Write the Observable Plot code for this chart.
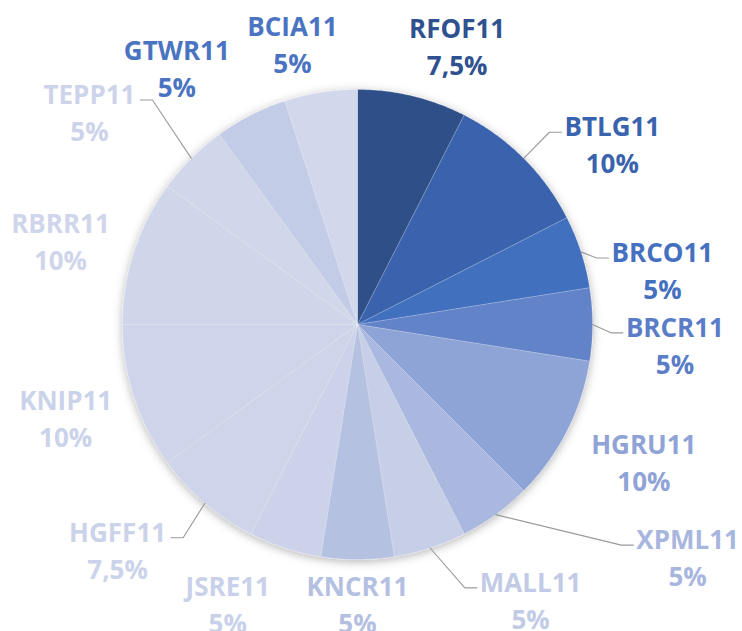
<!DOCTYPE html>
<html><head><meta charset="utf-8">
<script src="https://cdn.jsdelivr.net/npm/d3@7"></script>
<script src="https://cdn.jsdelivr.net/npm/@observablehq/plot@0.6"></script>
<style>html,body{margin:0;padding:0;background:#fff}</style>
</head><body><div id="chart"></div>
<script>
// ---- data ----
const names = ["RFOF11","BTLG11","BRCO11","BRCR11","HGRU11","XPML11","MALL11","KNCR11","JSRE11","HGFF11","KNIP11","RBRR11","TEPP11","GTWR11","BCIA11"];
const shares = [7.5,10,5,5,10,5,5,5,5,7.5,10,10,5,5,5];
const pctLabels = ["7,5%","10%","5%","5%","10%","5%","5%","5%","5%","7,5%","10%","10%","5%","5%","5%"];

// ---- styles ----
const sliceColors = ["#2E5088","#3A64AD","#3F6FBE","#6383C9","#8FA4D6","#AAB8DF","#C6CEE8","#B5C1E1","#CBD2E9","#CED5EA","#CED5EA","#D0D6EA","#D1D7EB","#C3CCE6","#D2D8EB"];
const labelColors = ["#2F5190","#3A63AD","#4470C0","#5B7DC8","#8FA3D6","#A8B6DF","#C2CBE6","#B4C0E1","#C9D1EA","#CBD3EA","#CBD3EA","#CFD5EA","#CDD4EA","#4A74C2","#4A74C2"];
// ---- label layout (angle shift in degrees from slice middle, radius in px) ----
const labelShift = [6.1,9.5,7.6,3.4,-1.6,-19,-14.3,0,7,6.5,0.5,-2,-6.4,-8,-4];
const labelRadius = [297,313,310,318,317,403,324,278,307,328,306,309,343,315,289];
const leaderSide = [0,1,1,1,0,1,1,0,0,-1,0,0,-1,0,0]; // 1: line enters from left of text, -1: from right

const R = 235, FS = 26, FONT = "'Open Sans'", LH = 37;
const ctx = document.createElement("canvas").getContext("2d");
ctx.font = `bold ${FS}px ${FONT}`;

const total = d3.sum(shares);
let acc = 0;
const slices = names.map((n, i) => {
  const a0 = acc / total * 360; acc += shares[i]; const a1 = acc / total * 360;
  return {name: n, i, a0, a1, mid: (a0 + a1) / 2};
});
const rad = d => d * Math.PI / 180;
const pt = (a, r) => [r * Math.sin(rad(a)), r * Math.cos(rad(a))];

// pie polygons
const piePts = [];
for (const s of slices) {
  piePts.push({name: s.name, x: 0, y: 0, c: sliceColors[s.i]});
  const steps = Math.max(2, Math.ceil((s.a1 - s.a0) * 2));
  for (let k = 0; k <= steps; k++) {
    const [x, y] = pt(s.a0 + (s.a1 - s.a0) * k / steps, 1);
    piePts.push({name: s.name, x, y, c: sliceColors[s.i]});
  }
  piePts.push({name: s.name, x: 0, y: 0, c: sliceColors[s.i]});
}

// labels
const labels = slices.map(s => {
  const [x, y] = pt(s.mid + labelShift[s.i], labelRadius[s.i] / R);
  return {x, y, text: names[s.i] + "\n" + pctLabels[s.i], c: labelColors[s.i], s};
});

// leader lines
const leaders = [];
labels.forEach(l => {
  const side = leaderSide[l.s.i];
  if (!side) return;
  const w = ctx.measureText(names[l.s.i]).width;
  const cx = l.x * R, cy = -l.y * R; // px relative to center (y down)
  const ly = cy - LH / 2 + 8;
  const ex = side === 1 ? cx - w / 2 - 3 : cx + w / 2 + 5;
  const bx = side === 1 ? ex - 12 : ex + 12;
  const [sx, sy] = pt(l.s.mid, 1);
  leaders.push({id: l.s.name, x: sx, y: sy});
  leaders.push({id: l.s.name, x: bx / R, y: -ly / R});
  leaders.push({id: l.s.name, x: ex / R, y: -ly / R});
});

const chart = Plot.plot({
  width: 742, height: 631,
  marginLeft: 122, marginRight: 150, marginTop: 89, marginBottom: 72,
  x: {domain: [-1, 1], axis: null},
  y: {domain: [-1, 1], axis: null},
  color: {type: "identity"},
  marks: [
    Plot.line(piePts, {x: "x", y: "y", z: "name", fill: "c", stroke: "#ffffff", strokeOpacity: 0.3, strokeWidth: 0.6, curve: "linear"}),
    Plot.line(leaders, {x: "x", y: "y", z: "id", stroke: "#9A9A9A", strokeWidth: 1.1}),
    Plot.text(labels, {x: "x", y: "y", text: "text", fill: "c", fontSize: FS, fontWeight: "bold", fontFamily: FONT, lineHeight: LH / FS, textAnchor: "middle"})
  ]
});
document.getElementById("chart").appendChild(chart);

// soft outer shadow on the pie
const svg = d3.select(chart);
const defs = svg.insert("defs", ":first-child");
const f = defs.append("filter").attr("id", "pieShadow").attr("x", "-20%").attr("y", "-20%").attr("width", "140%").attr("height", "140%");
f.append("feDropShadow").attr("dx", 0).attr("dy", 2).attr("stdDeviation", 5).attr("flood-color", "#000").attr("flood-opacity", 0.3);
svg.select('g[aria-label="line"]').attr("filter", "url(#pieShadow)");
</script>
</body></html>
